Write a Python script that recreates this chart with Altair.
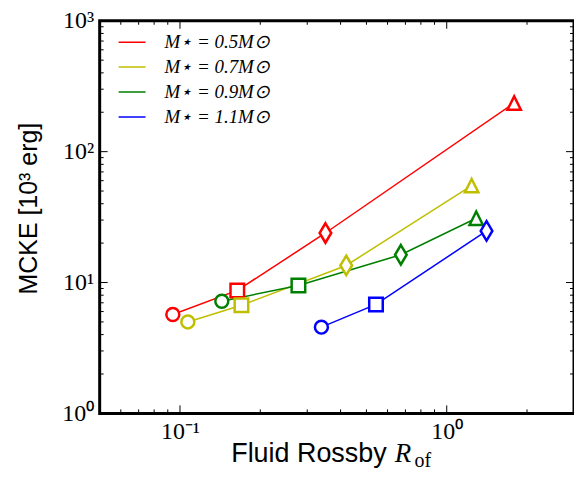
import altair as alt
import pandas as pd

# ---------------- data ----------------
series_labels = ["M⋆ = 0.5M⊙", "M⋆ = 0.7M⊙", "M⋆ = 0.9M⊙", "M⋆ = 1.1M⊙"]
series_colors = ["#ff0000", "#bfbf00", "#008000", "#0000ff"]

rossby_05 = [0.094, 0.164, 0.351, 1.79]
mcke_05 = [5.7, 8.7, 23.9, 235.0]
marker_05 = ["circle", "square", "diamond", "triangle"]

rossby_07 = [0.107, 0.170, 0.42, 1.24]
mcke_07 = [5.0, 6.7, 13.5, 55.0]
marker_07 = ["circle", "square", "diamond", "triangle"]

rossby_09 = [0.1435, 0.278, 0.673, 1.29]
mcke_09 = [7.2, 9.5, 16.3, 31.0]
marker_09 = ["circle", "square", "diamond", "triangle"]

rossby_11 = [0.339, 0.543, 1.41]
mcke_11 = [4.56, 6.8, 24.8]
marker_11 = ["circle", "square", "diamond"]

x_tick_values = [0.1, 1.0]
x_tick_labels = ["10⁻¹", "10⁰"]
x_minor_ticks = [0.06, 0.07, 0.08, 0.09, 0.2, 0.3, 0.4, 0.5, 0.6, 0.7, 0.8, 0.9, 2.0]
y_tick_values = [1, 10, 100, 1000]
y_tick_labels = ["10⁰", "10¹", "10²", "10³"]
y_minor_ticks = [2, 3, 4, 5, 6, 7, 8, 9, 20, 30, 40, 50, 60, 70, 80, 90,
                 200, 300, 400, 500, 600, 700, 800, 900]

x_title_parts = ["Fluid Rossby", "R", "of"]
y_title = "MCKE [10³ erg]"

# ---------------- table ----------------
rows = []
for lab, xs, ys, ms in [
    (series_labels[0], rossby_05, mcke_05, marker_05),
    (series_labels[1], rossby_07, mcke_07, marker_07),
    (series_labels[2], rossby_09, mcke_09, marker_09),
    (series_labels[3], rossby_11, mcke_11, marker_11),
]:
    for xv, yv, mv in zip(xs, ys, ms):
        rows.append({"series": lab, "rossby": xv, "mcke": yv, "marker": mv})
df = pd.DataFrame(rows)

W, H = 476, 394
TOP = 12

xs_scale = alt.Scale(type="log", domain=[0.05, 3], nice=False)
ys_scale = alt.Scale(type="log", domain=[1, 1000], nice=False)
color_scale = alt.Scale(domain=series_labels, range=series_colors)

def lab_expr(vals, labs):
    expr = "''"
    for v, l in reversed(list(zip(vals, labs))):
        expr = f"abs(datum.value - {v}) < {v * 1e-6} ? '{l}' : ({expr})"
    return expr

x_axis = alt.Axis(values=x_tick_values, labelExpr=lab_expr(x_tick_values, x_tick_labels),
                  title=None, labelPadding=6)
y_axis = alt.Axis(values=y_tick_values, labelExpr=lab_expr(y_tick_values, y_tick_labels),
                  title=y_title, labelPadding=6, titleFont="Liberation Sans",
                  titleFontSize=25, titleFontWeight="normal", titleColor="black",
                  titleAngle=-90, titleX=-63, titleY=188, titleBaseline="alphabetic",
                  titleAlign="center")

base = alt.Chart(df)

lines = base.mark_line(strokeWidth=1.5).encode(
    x=alt.X("rossby:Q", scale=xs_scale, axis=x_axis),
    y=alt.Y("mcke:Q", scale=ys_scale, axis=y_axis),
    color=alt.Color("series:N", scale=color_scale, legend=alt.Legend(
        orient="none", legendX=18, legendY=10, title=None, symbolType="stroke",
        symbolSize=729, symbolStrokeWidth=1.5, labelFont="Liberation Serif",
        labelFontStyle="italic", labelFontSize=19, labelOffset=18, rowPadding=2,
        clipHeight=23, padding=0, labelColor="black")),
    detail="series:N",
)

thin_diamond = "M0,-1L0.6,0L0,1L-0.6,0Z"
triangle = "M0,-1L1,1L-1,1Z"
marker_kinds = ["circle", "square", "diamond", "triangle"]

points = base.mark_point(filled=True, fill="white", strokeWidth=2.5, opacity=1).encode(
    x=alt.X("rossby:Q", scale=xs_scale, axis=x_axis),
    y=alt.Y("mcke:Q", scale=ys_scale, axis=y_axis),
    stroke=alt.Stroke("series:N", scale=color_scale, legend=None),
    shape=alt.Shape("marker:N", scale=alt.Scale(
        domain=marker_kinds,
        range=["circle", "square", thin_diamond, triangle]), legend=None),
    size=alt.Size("marker:N", scale=alt.Scale(
        type="ordinal", domain=marker_kinds,
        range=[169, 185, 380, 180]), legend=None),
)

def xticks(vals, length):
    d = alt.Chart(pd.DataFrame({"v": vals}))
    bot = d.mark_rule(color="black", strokeWidth=1).encode(
        x=alt.X("v:Q", scale=xs_scale, axis=x_axis), y=alt.value(H), y2=alt.value(H - length))
    top = d.mark_rule(color="black", strokeWidth=1).encode(
        x=alt.X("v:Q", scale=xs_scale, axis=x_axis), y=alt.value(0), y2=alt.value(length))
    return [bot, top]

def yticks(vals, length):
    d = alt.Chart(pd.DataFrame({"v": vals}))
    left = d.mark_rule(color="black", strokeWidth=1).encode(
        y=alt.Y("v:Q", scale=ys_scale, axis=y_axis), x=alt.value(0), x2=alt.value(length))
    right = d.mark_rule(color="black", strokeWidth=1).encode(
        y=alt.Y("v:Q", scale=ys_scale, axis=y_axis), x=alt.value(W), x2=alt.value(W - length))
    return [left, right]

tick_layers = (xticks(x_tick_values, 8) + xticks(x_minor_ticks, 4)
               + yticks(y_tick_values, 8) + yticks(y_minor_ticks, 4))

t1 = alt.Chart(pd.DataFrame({"t": [x_title_parts[0]]})).mark_text(
    font="Liberation Sans", fontSize=27, align="left", baseline="alphabetic", color="black"
).encode(x=alt.value(132), y=alt.value(443), text="t:N")
t2 = alt.Chart(pd.DataFrame({"t": [x_title_parts[1]]})).mark_text(
    font="Liberation Serif", fontStyle="italic", fontSize=27, align="left",
    baseline="alphabetic", color="black"
).encode(x=alt.value(296), y=alt.value(443), text="t:N")
t3 = alt.Chart(pd.DataFrame({"t": [x_title_parts[2]]})).mark_text(
    font="Liberation Serif", fontSize=20, align="left", baseline="alphabetic", color="black"
).encode(x=alt.value(316), y=alt.value(448), text="t:N")

chart = alt.layer(lines, points, *tick_layers, t1, t2, t3).properties(
    width=W, height=H,
    background="white",
    autosize=alt.AutoSizeParams(type="none"),
    padding={"left": 92, "top": TOP, "right": 0, "bottom": 58},
).configure_view(
    stroke="black", strokeWidth=3
).configure_axis(
    domain=False, ticks=False, grid=False,
    labelFont="Liberation Serif", labelFontSize=24, labelColor="black",
)

chart.save("out.html", embed_options={"renderer": "svg", "actions": False})
